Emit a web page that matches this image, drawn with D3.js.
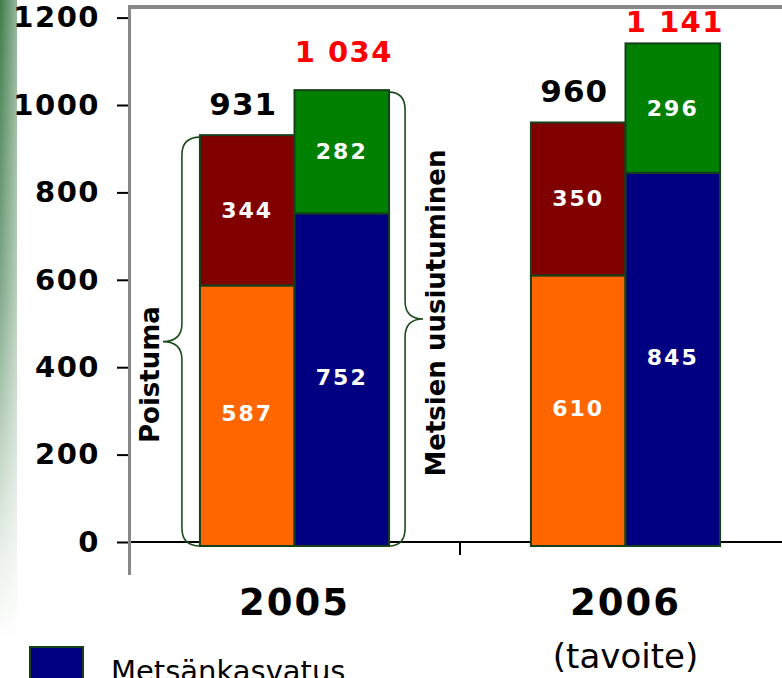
<!DOCTYPE html>
<html>
<head>
<meta charset="utf-8">
<script src="https://cdn.jsdelivr.net/npm/d3@7/dist/d3.min.js"></script>
<style>
  html, body { margin: 0; padding: 0; background: #fff; }
  svg { display: block; }
</style>
</head>
<body>
<svg id="chart" width="782" height="678"></svg>
<script>
// ---- data ----
const categories = ["2005", "2006"];
const categorySub = ["", "(tavoite)"];
const barKeys = ["poistuma", "uusiutuminen"];
const yTicks = [0, 200, 400, 600, 800, 1000, 1200];

// Poistuma bar (bottom: orange, top: dark red)
const poistumaLower = [587, 610];
const poistumaUpper = [344, 350];
// Metsien uusiutuminen bar (bottom: blue = Metsänkasvatus, top: green)
const metsankasvatus = [752, 845];
const uusiutuminenUpper = [282, 296];

const legendLabels = ["Metsänkasvatus"];
const braceLabels = ["Poistuma", "Metsien uusiutuminen"];

// ---- styling ----
const colors = {
  lower0: "#FF6600", upper0: "#800000",
  lower1: "#000080", upper1: "#008000"
};
const barStroke = "#15401a";
const font = "'DejaVu Sans', Verdana, sans-serif";

const svg = d3.select("#chart");

// background strip on the left
const defs = svg.append("defs");
const gv = defs.append("linearGradient").attr("id", "gv")
  .attr("x1", 0).attr("y1", 0).attr("x2", 0).attr("y2", 1);
gv.append("stop").attr("offset", "0%").attr("stop-color", "#3f7c4c");
gv.append("stop").attr("offset", "45%").attr("stop-color", "#7fa887");
gv.append("stop").attr("offset", "85%").attr("stop-color", "#e6eee6");
gv.append("stop").attr("offset", "100%").attr("stop-color", "#ffffff");
const gh = defs.append("linearGradient").attr("id", "gh")
  .attr("x1", 0).attr("y1", 0).attr("x2", 1).attr("y2", 0);
gh.append("stop").attr("offset", "0%").attr("stop-color", "#ffffff").attr("stop-opacity", 0);
gh.append("stop").attr("offset", "100%").attr("stop-color", "#ffffff").attr("stop-opacity", 0.45);
svg.append("rect").attr("x", 0).attr("y", 0).attr("width", 17).attr("height", 640).attr("fill", "url(#gv)");
svg.append("rect").attr("x", 0).attr("y", 0).attr("width", 17).attr("height", 640).attr("fill", "url(#gh)");

// ---- scales ----
const y = d3.scaleLinear().domain([0, 1200]).range([542, 17.6]);
const x0 = d3.scaleBand().domain(categories).range([129, 791]).paddingInner(0).paddingOuter(0);
const x1 = d3.scaleBand().domain(barKeys).range([0, x0.bandwidth()]).paddingInner(0).paddingOuter(0.75);

const fmt = d3.formatLocale({ decimal: ",", thousands: " ", grouping: [3], currency: ["", "€"] }).format(",d");

// ---- frame ----
svg.append("line").attr("x1", 129).attr("x2", 782).attr("y1", 7).attr("y2", 7)
  .attr("stroke", "#888").attr("stroke-width", 4);

// baseline
svg.append("line").attr("x1", 129).attr("x2", 782).attr("y1", y(0)).attr("y2", y(0))
  .attr("stroke", "#000").attr("stroke-width", 2);
// separator ticks between categories
categories.slice(1).forEach(c => {
  svg.append("line").attr("x1", x0(c)).attr("x2", x0(c)).attr("y1", y(0)).attr("y2", y(0) + 13)
    .attr("stroke", "#000").attr("stroke-width", 2);
});

// y axis
const yAxis = d3.axisLeft(y).tickValues(yTicks).tickSize(11).tickPadding(17).tickFormat(d3.format("d"));
const ya = svg.append("g").attr("transform", "translate(128,0)").call(yAxis);
ya.select(".domain").remove();
ya.selectAll(".tick line").attr("stroke", "#000").attr("stroke-width", 2);
ya.selectAll(".tick text")
  .attr("font-family", font).attr("font-weight", "bold").attr("font-size", 29)
  .attr("letter-spacing", 1.5).attr("fill", "#000");

svg.append("line").attr("x1", 129.5).attr("x2", 129.5).attr("y1", 5).attr("y2", 575)
  .attr("stroke", "#888").attr("stroke-width", 3);

// ---- bars ----
const bars = [];
categories.forEach((c, i) => {
  bars.push({ cat: c, key: "poistuma", lower: poistumaLower[i], upper: poistumaUpper[i], cl: colors.lower0, cu: colors.upper0, totalColor: "#000" });
  bars.push({ cat: c, key: "uusiutuminen", lower: metsankasvatus[i], upper: uusiutuminenUpper[i], cl: colors.lower1, cu: colors.upper1, totalColor: "#FF0000" });
});

bars.forEach(b => {
  const bx = x0(b.cat) + x1(b.key);
  const bw = x1.bandwidth();
  const total = b.lower + b.upper;
  const g = svg.append("g");
  g.append("rect").attr("x", bx).attr("y", y(b.lower)).attr("width", bw).attr("height", y(0) - y(b.lower) + 4)
    .attr("fill", b.cl).attr("stroke", barStroke).attr("stroke-width", 2);
  g.append("rect").attr("x", bx).attr("y", y(total)).attr("width", bw).attr("height", y(b.lower) - y(total))
    .attr("fill", b.cu).attr("stroke", barStroke).attr("stroke-width", 2);

  // segment labels
  const segLab = (v, y0, y1v) => g.append("text")
    .attr("x", bx + bw / 2).attr("y", (y(y0) + y(y1v)) / 2)
    .attr("text-anchor", "middle").attr("dominant-baseline", "central")
    .attr("font-family", font).attr("font-weight", "bold").attr("font-size", 22)
    .attr("letter-spacing", 2).attr("fill", "#fff").text(fmt(v));
  segLab(b.lower, 0, b.lower);
  segLab(b.upper, b.lower, total);

  // total label
  const isRed = b.key === "uusiutuminen";
  const ty = isRed ? Math.max(y(total) - 28, 32) : y(total) - 20;
  g.append("text").attr("x", bx + bw / 2 + (isRed ? 2 : -4)).attr("y", ty)
    .attr("text-anchor", "middle")
    .attr("font-family", font).attr("font-weight", "bold").attr("font-size", isRed ? 29 : 31)
    .attr("letter-spacing", isRed ? 1.5 : 1)
    .attr("fill", b.totalColor).text(fmt(total));
});

// ---- braces (first category) ----
function brace(xEdge, top, bot, dir, off, depth) {
  const xl = xEdge + dir * off, xt = xEdge + dir * depth, mid = (top + bot) / 2, r = 18;
  return `M${xEdge},${top} Q${xl},${top} ${xl},${top + r} L${xl},${mid - r} Q${xl},${mid} ${xt},${mid} ` +
         `Q${xl},${mid} ${xl},${mid + r} L${xl},${bot - r} Q${xl},${bot} ${xEdge},${bot}`;
}
const c0 = categories[0];
const leftX = x0(c0) + x1("poistuma");
const rightX = x0(c0) + x1("uusiutuminen") + x1.bandwidth();
const tot0 = poistumaLower[0] + poistumaUpper[0];
const tot1 = metsankasvatus[0] + uusiutuminenUpper[0];
svg.append("path").attr("d", brace(leftX, y(tot0) + 2, y(0) + 4, -1, 18, 37))
  .attr("fill", "none").attr("stroke", "#1d4d1d").attr("stroke-width", 1.6);
svg.append("path").attr("d", brace(rightX, y(tot1) + 2, y(0) + 4, 1, 16, 34))
  .attr("fill", "none").attr("stroke", "#1d4d1d").attr("stroke-width", 1.6);

const midL = (y(tot0) + y(0)) / 2;
const midR = (y(tot1) + y(0)) / 2;
svg.append("text").attr("transform", `translate(159,${midL + 36}) rotate(-90)`)
  .attr("text-anchor", "middle").attr("font-family", font).attr("font-weight", "bold")
  .attr("font-size", 26).attr("fill", "#000").text(braceLabels[0]);
svg.append("text").attr("transform", `translate(445,${midR - 3}) rotate(-90)`)
  .attr("text-anchor", "middle").attr("font-family", font).attr("font-weight", "bold")
  .attr("font-size", 26).attr("fill", "#000").text(braceLabels[1]);

// ---- category labels ----
categories.forEach((c, i) => {
  const cx = x0(c) + x0.bandwidth() / 2;
  svg.append("text").attr("x", cx).attr("y", 615).attr("text-anchor", "middle")
    .attr("font-family", font).attr("font-weight", "bold").attr("font-size", 37)
    .attr("letter-spacing", 2).attr("fill", "#000").text(c);
  if (categorySub[i]) {
    svg.append("text").attr("x", cx).attr("y", 668).attr("text-anchor", "middle")
      .attr("font-family", font).attr("font-size", 34).attr("fill", "#000").text(categorySub[i]);
  }
});

// ---- legend ----
svg.append("rect").attr("x", 30).attr("y", 647).attr("width", 53).attr("height", 53)
  .attr("fill", colors.lower1).attr("stroke", barStroke).attr("stroke-width", 2);
svg.append("text").attr("x", 111).attr("y", 681).attr("font-family", font)
  .attr("font-size", 29).attr("fill", "#000").text(legendLabels[0]);
</script>
</body>
</html>
